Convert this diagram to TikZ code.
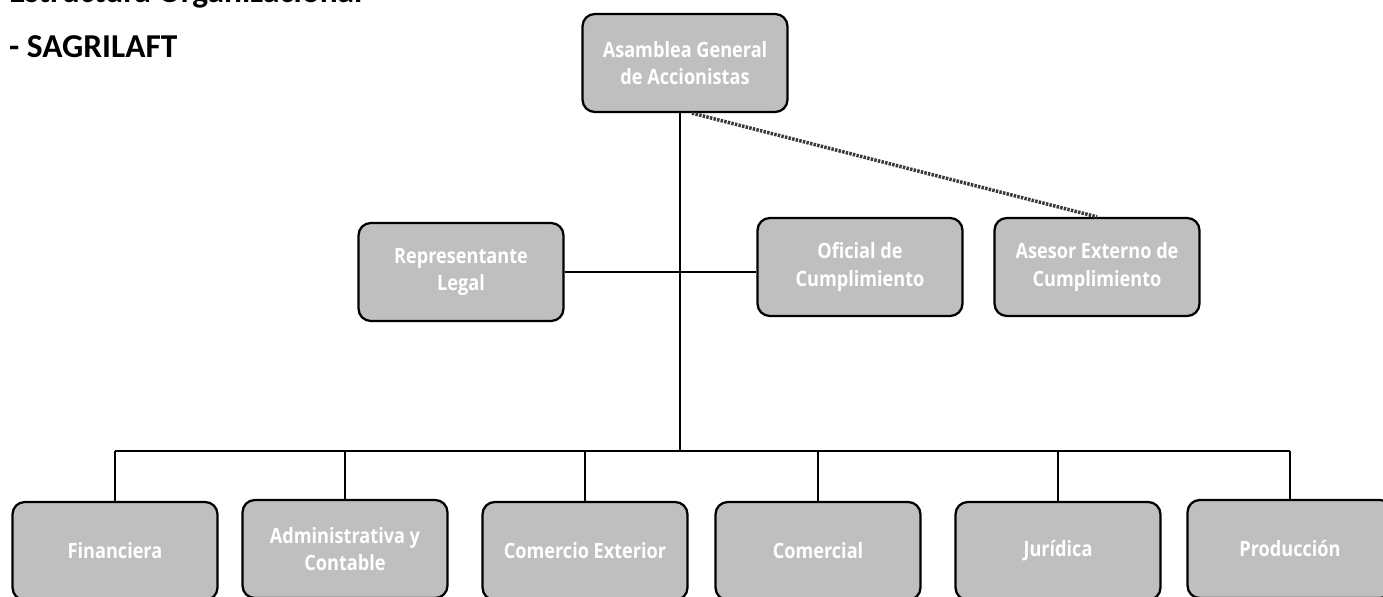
\documentclass[tikz,border=0pt]{standalone}
\usepackage{fontspec}
\setmainfont{Carlito}
\newfontfamily\boxfont[FakeStretch=0.86]{Open Sans}
\usepackage{xcolor}
\usetikzlibrary{calc}

\definecolor{boxgray}{HTML}{BFBFBF}

\begin{document}
\begin{tikzpicture}[x=0.02cm, y=-0.02cm,
		unit/.style = {draw, line width=1.3pt, fill=boxgray, rounded corners=7pt,
			minimum width=4.1cm, minimum height=1.96cm, align=center,
			text=white, font=\boxfont\bfseries\fontsize{12}{15.5}\selectfont},
		link/.style = {line width=1.1pt},
		advice/.style = {line width=2pt, gray!45!black, dash pattern=on 1.4pt off 0.7pt}]
		\def\busy{451};
		
		\clip (0,0) rectangle (1383,597);
		\useasboundingbox (0,0) rectangle (1383,597);
		
		% titulo
		\node [anchor=base west, font=\bfseries\fontsize{19}{21}\selectfont] (titulo) at (3,3) {Estructura Organizacional};
		\node [anchor=base west, font=\bfseries\fontsize{19}{21}\selectfont] (sigla) at (3,58) {- SAGRILAFT};
		
		\node [unit] (asamblea) at (685,63) {Asamblea General\\de Accionistas};
		\node [unit] (representante) at (461,272) {Representante\\Legal};
		\node [unit] (oficial) at (860,267) {Oficial de\\Cumplimiento};
		\node [unit] (asesor) at (1097,267) {Asesor Externo de\\Cumplimiento};
		
		\node [unit] (financiera) at (115,551) {Financiera};
		\node [unit] (administrativa) at (345,549) {Administrativa y\\Contable};
		\node [unit] (comercio) at (585,551) {Comercio Exterior};
		\node [unit] (comercial) at (818,551) {Comercial};
		\node [unit] (juridica) at (1058,551) {Jurídica};
		\node [unit] (produccion) at (1290,549) {Producción};
		
		\coordinate (bus) at (680,\busy);
		
		\begin{scope}[link]
			\draw (asamblea.south -| bus) -- (bus);
			\draw (representante.east) -- (representante.east -| oficial.west);
			\draw (financiera.north |- bus) -- (produccion.north |- bus);
			\foreach \area in {financiera, administrativa, comercio, comercial, juridica, produccion}
				\draw (\area.north |- bus) -- (\area.north);
		\end{scope}
		
		\draw [advice] ([xshift=4]asamblea.south) -- (asesor.north);
	\end{tikzpicture}
\end{document}
